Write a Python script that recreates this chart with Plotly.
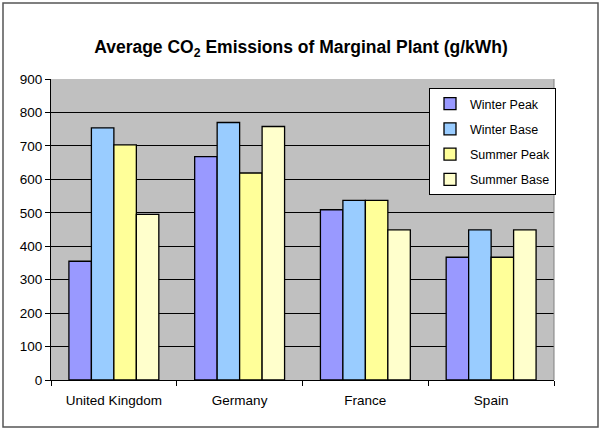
import plotly.graph_objects as go

countries = ["United Kingdom", "Germany", "France", "Spain"]
series_names = ["Winter Peak", "Winter Base", "Summer Peak", "Summer Base"]
winter_peak = [355, 668, 509, 367]
winter_base = [754, 770, 537, 449]
summer_peak = [703, 619, 537, 367]
summer_base = [495, 758, 449, 449]
y_ticks = [0, 100, 200, 300, 400, 500, 600, 700, 800, 900]

values = [winter_peak, winter_base, summer_peak, summer_base]
colors = ["#9999FF", "#99CCFF", "#FFFF99", "#FFFFCC"]

fig = go.Figure()
for i, (name, vals, col) in enumerate(zip(series_names, values, colors)):
    fig.add_trace(go.Bar(
        x=countries, y=vals, name=name, legendgroup=name,
        marker=dict(color=col, line=dict(color="black", width=1.3)),
    ))

W, H = 602, 431
l, r, t, b = 51, 48, 79, 51
pw, ph = W - l - r, H - t - b

def px_x(x):
    return (x - l) / pw

def px_y(y):
    return (H - b - y) / ph

fig.update_layout(
    width=W, height=H,
    margin=dict(l=l, r=r, t=t, b=b, pad=0),
    paper_bgcolor="white",
    plot_bgcolor="#C0C0C0",
    barmode="group",
    bargap=0.285,
    bargroupgap=0,
    font=dict(family="Arial, Liberation Sans, sans-serif", size=13, color="black"),
    title=dict(
        text="<b>Average CO<sub>2</sub> Emissions of Marginal Plant (g/kWh)</b>",
        x=0.5, xanchor="center", y=1 - 47 / H, yanchor="middle",
        font=dict(size=17.5, color="black"),
    ),
    legend=dict(
        x=px_x(429), y=px_y(88), xanchor="left", yanchor="top",
        bgcolor="white", bordercolor="black", borderwidth=1,
        font=dict(size=12.5), traceorder="grouped", tracegroupgap=6,
        itemwidth=30,
    ),
    xaxis=dict(
        showline=True, linecolor="black", linewidth=1,
        ticks="outside", tickson="boundaries", ticklen=5, tickcolor="black",
        showgrid=False, tickfont=dict(size=13.5), ticklabelstandoff=8,
    ),
    yaxis=dict(
        range=[0, 900], tickvals=y_ticks,
        showline=True, linecolor="black", linewidth=1,
        ticks="outside", ticklen=5, tickcolor="black",
        showgrid=True, gridcolor="black", gridwidth=1,
        zeroline=False, tickfont=dict(size=13.5),
    ),
    shapes=[
        dict(type="rect", xref="paper", yref="paper",
             x0=px_x(3), x1=px_x(598), y0=px_y(427), y1=px_y(3),
             line=dict(color="#555555", width=1.5), fillcolor="rgba(0,0,0,0)", layer="below"),
        dict(type="line", xref="paper", yref="paper",
             x0=1, x1=1, y0=0, y1=1, line=dict(color="#808080", width=1)),
    ],
)

fig.write_html("out.html", config={"displayModeBar": False},
               post_script="document.body.style.margin='0';")
